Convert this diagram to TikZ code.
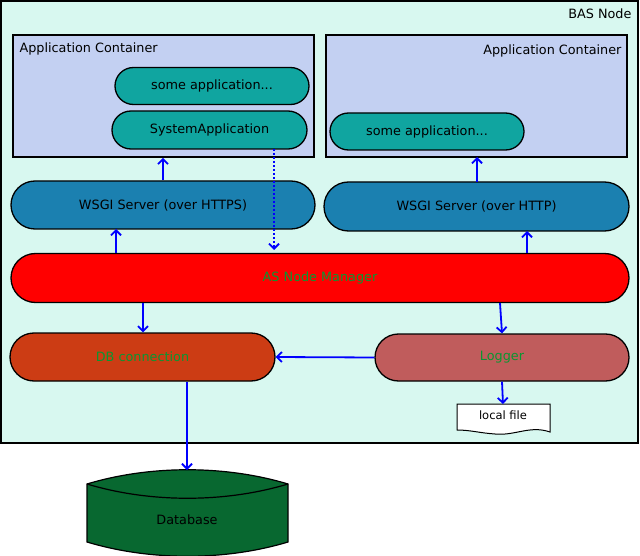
\documentclass[tikz,border=0pt]{standalone}
\usepackage{fontspec}
\setmainfont{DejaVu Sans}
\usetikzlibrary{arrows.meta,shapes.misc}
\definecolor{nodebg}{RGB}{216,248,240}
\definecolor{contbg}{RGB}{195,208,242}
\definecolor{appbg}{RGB}{16,165,160}
\definecolor{wsgibg}{RGB}{27,128,176}
\definecolor{dbcbg}{RGB}{204,60,20}
\definecolor{logbg}{RGB}{192,92,92}
\definecolor{dbbg}{RGB}{8,104,48}
\definecolor{gtext}{RGB}{10,150,50}
\tikzset{
  box/.style={draw, line width=1.6pt, rectangle, inner sep=0pt},
  pill/.style={draw, line width=1.3pt, rounded rectangle, inner sep=0pt},
  link/.style={draw=blue, line width=1.8pt, -{Straight Barb[length=5pt,width=10pt]}},
}
\begin{document}
\begin{tikzpicture}[x=1pt,y=-1pt,font=\fontsize{12.8}{15}\selectfont]
  \useasboundingbox (0,0) rectangle (640,556);
  % containers
  \node[box, fill=nodebg, minimum width=637pt, minimum height=442pt] (bas) at (319.5,222) {};
  \node[anchor=east] (baslabel) at (635,14) {BAS Node};
  \node[box, fill=contbg, minimum width=301pt, minimum height=122pt] (cont1) at (163.5,96) {};
  \node[box, fill=contbg, minimum width=301pt, minimum height=122pt] (cont2) at (476.5,96) {};
  \node[anchor=west] (cont1label) at (16,49) {Application Container};
  \node[anchor=east] (cont2label) at (625,51) {Application Container};
  % applications
  \node[pill, fill=appbg, minimum width=194pt, minimum height=37pt] (app1) at (212,86) {some application...};
  \node[pill, fill=appbg, minimum width=195pt, minimum height=38pt] (sysapp) at (209.5,130) {SystemApplication};
  \node[pill, fill=appbg, minimum width=194pt, minimum height=37pt] (app2) at (427,131.5) {some application...};
  % servers
  \node[pill, fill=wsgibg, minimum width=304pt, minimum height=48pt] (wsgis) at (163,205) {WSGI Server (over HTTPS)};
  \node[pill, fill=wsgibg, minimum width=305pt, minimum height=49pt] (wsgi) at (476.5,206.5) {WSGI Server (over HTTP)};
  \node[pill, fill=red, text=gtext, minimum width=618pt, minimum height=49pt] (mgr) at (320,278) {AS Node Manager};
  \node[pill, fill=dbcbg, text=gtext, minimum width=265pt, minimum height=48pt] (dbc) at (142.5,357) {DB connection};
  \node[pill, fill=logbg, text=gtext, minimum width=254pt, minimum height=47pt] (logger) at (502,357.5) {Logger};
  % local file
  \draw[line width=1pt, fill=white] (457,404) -- (550,404) -- (550,432)
    .. controls (530,425) and (515,436) .. (495,434)
    .. controls (480,433) and (470,430) .. (457,430) -- cycle;
  \node[font=\fontsize{11.5}{13}\selectfont] (file) at (503,415) {local file};
  % database
  \draw[line width=1.2pt, fill=dbbg] (87,484) .. controls (150,465) and (225,465) .. (288,484)
    -- (288,542) .. controls (225,561) and (150,561) .. (87,542) -- cycle;
  \draw[line width=1.2pt] (87,484) .. controls (150,503) and (225,503) .. (288,484);
  \node (db) at (187,520) {Database};
  \coordinate (dbtop) at (187,470);
  % connections
  \draw[link] (wsgis.north) -- (wsgis.north |- cont1.south);
  \draw[link] (477,182) -- (477,157);
  \draw[link] (116,253) -- (116,229);
  \draw[link] (527,253) -- (527,231);
  \draw[link, dash pattern=on 2pt off 2pt] (274,149) -- (274,250);
  \draw[link] (143,303) -- (dbc.north -| 143,0);
  \draw[link] (500,303) -- (logger.north);
  \draw[link] (logger.west) -- (dbc.east);
  \draw[link] (logger.south) -- (file.north |- 0,404);
  \draw[link] (dbc.south -| 187,0) -- (dbtop);
\end{tikzpicture}
\end{document}
